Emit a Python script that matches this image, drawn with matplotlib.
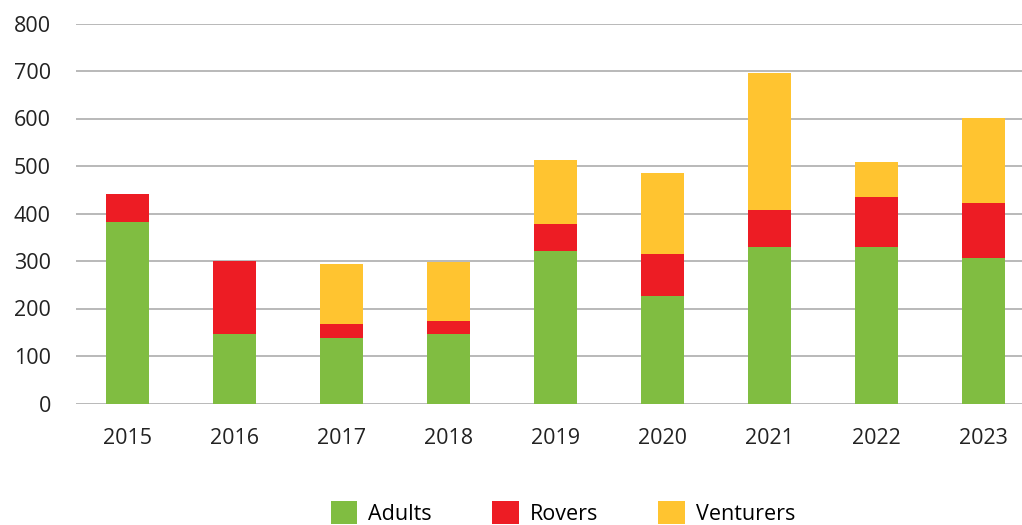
import matplotlib
matplotlib.use("Agg")
import matplotlib.pyplot as plt
import numpy as np
from matplotlib.patches import Patch

years = ["2015", "2016", "2017", "2018", "2019", "2020", "2021", "2022", "2023"]
adults = [382, 146, 138, 146, 321, 226, 329, 329, 306]
rovers = [59, 154, 29, 28, 57, 89, 78, 105, 116]
venturers = [0, 0, 126, 124, 134, 170, 288, 74, 178]

colors = {"Adults": "#80bd41", "Rovers": "#ed1c24", "Venturers": "#ffc430"}

plt.rcParams["font.family"] = ["Open Sans", "DejaVu Sans"]

W, H = 1022, 525
fig = plt.figure(figsize=(W / 100, H / 100), dpi=100)
ax = fig.add_axes([76 / W, 1 - 403.5 / H, (1022 - 76) / W, 380 / H])

x = np.arange(len(years))
a = np.array(adults)
r = np.array(rovers)
v = np.array(venturers)
bw = 0.40
ax.bar(x, a, bw, color=colors["Adults"], zorder=3)
ax.bar(x, r, bw, bottom=a, color=colors["Rovers"], zorder=3)
ax.bar(x, v, bw, bottom=a + r, color=colors["Venturers"], zorder=3)

ax.set_xlim(-0.48, 8.36)
ax.set_ylim(0, 800)
ax.set_yticks(range(0, 801, 100))
ax.set_xticks(x)
ax.set_xticklabels(years)
ax.yaxis.grid(True, color="#b3b3b3", linewidth=1.3, zorder=0)
ax.set_axisbelow(True)
for s in ax.spines.values():
    s.set_visible(False)
ax.tick_params(axis="both", length=0, labelsize=15.5, colors="#222222")
ax.tick_params(axis="y", pad=18)
ax.tick_params(axis="x", pad=17.5)

handles = [Patch(facecolor=colors[k], edgecolor="none", label=k) for k in ["Adults", "Rovers", "Venturers"]]
fig.legend(handles=handles, loc="center", bbox_to_anchor=(563 / W, 1 - 513 / H), ncol=3,
           frameon=False, fontsize=15.5, handlelength=1.25, handleheight=1.25,
           handletextpad=0.5, columnspacing=2.8, borderaxespad=0, borderpad=0)

fig.savefig("out.png", dpi=100)
